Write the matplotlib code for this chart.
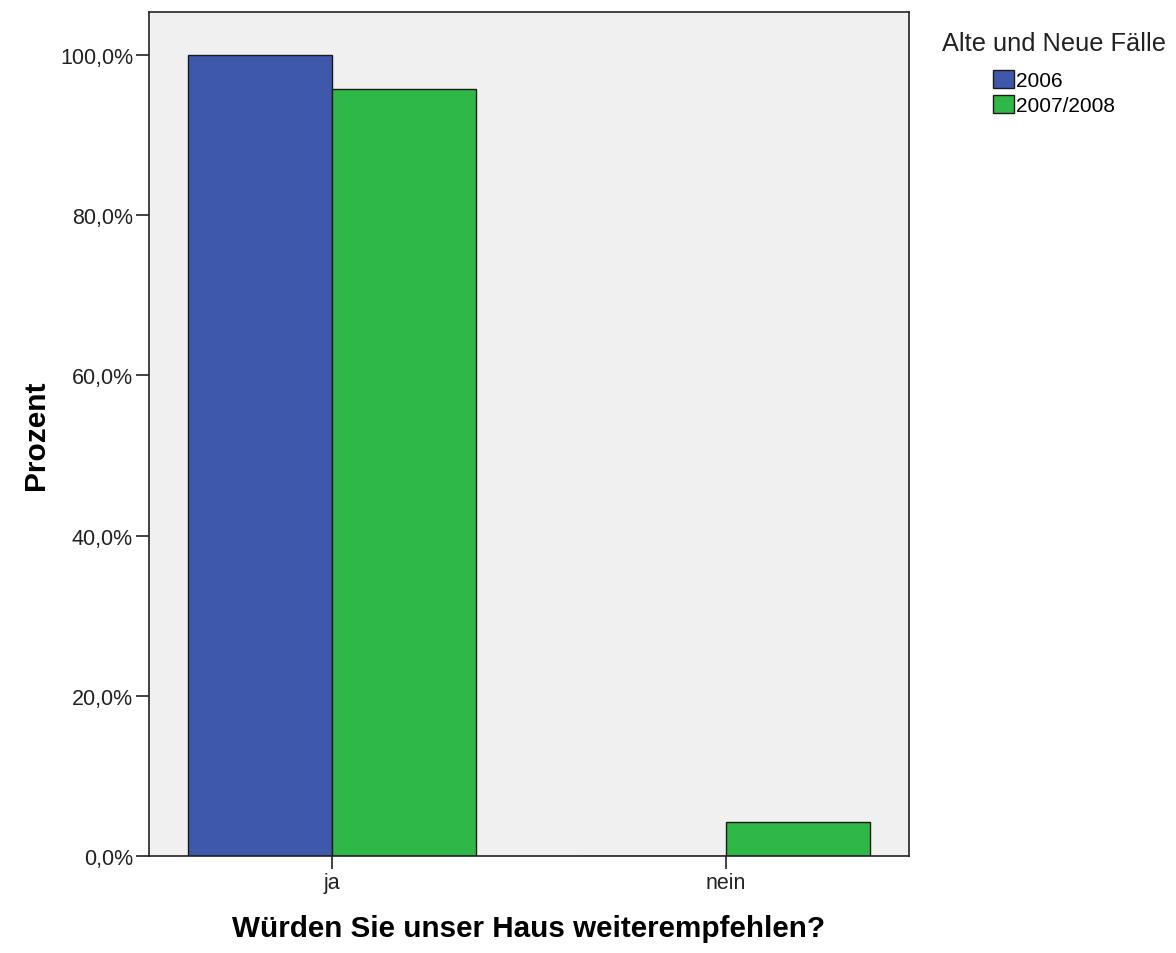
import numpy as np
import matplotlib
matplotlib.use("Agg")
import matplotlib.pyplot as plt

# === Data ===
categories = ["ja", "nein"]
series_names = ["2006", "2007/2008"]
values_2006 = [100.0, 0.0]
values_2007 = [95.7, 4.3]
y_ticks = [0, 20, 40, 60, 80, 100]
y_tick_labels = ["0,0%", "20,0%", "40,0%", "60,0%", "80,0%", "100,0%"]

plt.rcParams['font.family'] = ['Liberation Sans', 'DejaVu Sans']

W, H = 1176, 954
fig = plt.figure(figsize=(W / 100, H / 100), dpi=100)
ax = fig.add_axes([149 / W, 1 - 857 / H, (909 - 149) / W, (857 - 13) / H])
ax.set_facecolor("#f0f0f0")

x = np.arange(len(categories))
bw = 0.366
b1 = ax.bar(x - bw / 2, values_2006, bw, color="#3e58ac", edgecolor="#1a1a1a",
            linewidth=1.0, label=series_names[0])
b2 = ax.bar(x + bw / 2, values_2007, bw, color="#2eb848", edgecolor="#1a1a1a",
            linewidth=1.0, label=series_names[1])

ax.set_xlim(-0.4645, 1.4645)
ax.set_ylim(0, 105.37)
ax.set_xticks(x)
ax.set_xticklabels(categories, fontsize=15.5, color="#222222")
ax.set_yticks(y_ticks)
ax.set_yticklabels(y_tick_labels, fontsize=15.5, color="#222222")
ax.tick_params(axis="both", length=9.5, width=1.2, color="#222222", pad=2)

for s in ax.spines.values():
    s.set_linewidth(1.2)
    s.set_color("#222222")

ax.set_xlabel("Würden Sie unser Haus weiterempfehlen?", fontsize=21.3, fontweight="bold")
ax.set_ylabel("Prozent", fontsize=21.5, fontweight="bold")
ax.xaxis.set_label_coords(0.5, (857 - 915) / 844)
ax.yaxis.set_label_coords((50 - 149) / 760, 0.5)

leg = ax.legend(handles=[b1, b2], title="Alte und Neue Fälle", frameon=False,
                loc="upper center", bbox_to_anchor=(1054 / W, 1 - 32 / H),
                bbox_transform=fig.transFigure, fontsize=15, title_fontsize=18.3,
                handlelength=1.0, handleheight=0.9, handletextpad=0.12,
                labelspacing=0.25, borderpad=0, borderaxespad=0)
leg.get_title().set_color("#222222")
leg._legend_box.sep = 11

fig.savefig("out.png", dpi=100)
